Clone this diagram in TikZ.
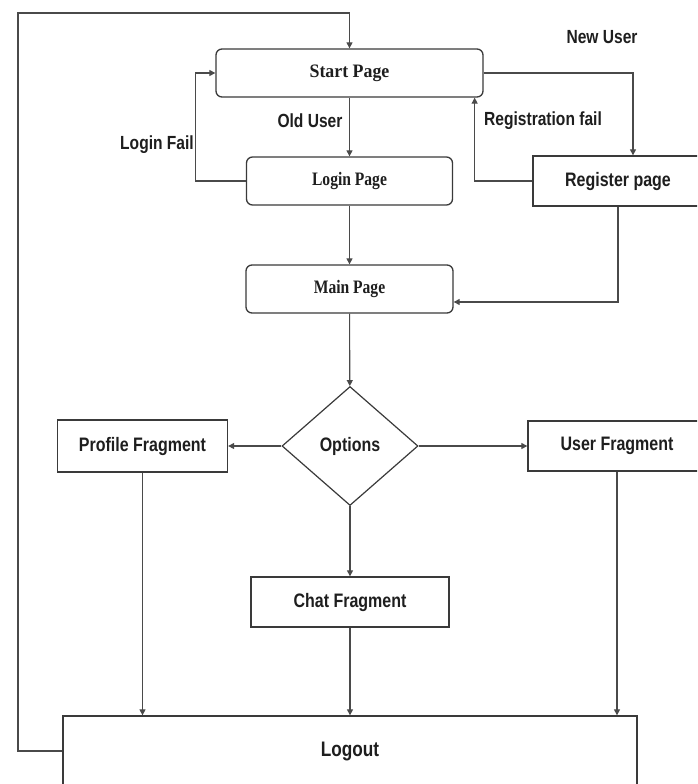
\documentclass[tikz,border=0pt]{standalone}
\usepackage{fontspec}
\setmainfont{Liberation Serif}
\newfontfamily\fragfont[FakeStretch=0.82]{Liberation Sans}
\newfontfamily\pagefont[FakeStretch=0.82]{Liberation Serif}
\newfontfamily\startfont[FakeStretch=0.94]{Liberation Serif}
\usetikzlibrary{positioning,arrows.meta,calc,shapes.geometric}
\definecolor{edge}{HTML}{3A3A3A}
\definecolor{wire}{HTML}{4A4A4A}
\definecolor{ink}{HTML}{1E1E1E}
\tikzset{
  page/.style   = {draw=edge, fill=white, line width=1.3pt, rounded corners=6pt,
                   minimum width=207pt, minimum height=48pt, inner sep=0pt,
                   font=\pagefont\bfseries\fontsize{19}{21}\selectfont, text=ink},
  frag/.style   = {draw=edge, fill=white, line width=1.3pt, minimum height=50pt,
                   inner sep=0pt, font=\fragfont\bfseries\fontsize{19.5}{21}\selectfont, text=ink},
  choice/.style = {diamond, draw=edge, fill=white, line width=1.2pt, aspect=1.14,
                   minimum width=136pt, minimum height=119pt, inner sep=0pt,
                   font=\fragfont\bfseries\fontsize{19.5}{21}\selectfont, text=ink},
  flow/.style   = {-{Triangle[length=6pt,width=6pt]}, draw=wire, line width=1.1pt},
  tag/.style    = {font=\fragfont\bfseries\fontsize{19}{21}\selectfont, text=ink, inner sep=0pt},
}

\begin{document}
\begin{tikzpicture}[x=1pt,y=-1pt]
\useasboundingbox (0,0) rectangle (697,784);
\clip (0,0) rectangle (697,784);

% ------------------------------------------------------------------ pages
\node[page, minimum width=267pt, font=\startfont\bfseries\fontsize{19}{21}\selectfont] (start) at (349.5,73) {Start Page};
\node[page, minimum width=206pt] (login) at (349.5,181) {Login Page};
\node[page] (main) at (349.5,289) {Main Page};
\node[frag, minimum width=170pt] (register) at (618,181) {Register page};

% ------------------------------------------------------------------ options
\node[choice] (options) at (350,446) {Options};
\node[frag, minimum width=170pt, minimum height=52pt] (profile) at (142.5,446) {Profile Fragment};
\node[frag, minimum width=178pt] (user) at (617,446) {User Fragment};
\node[frag, minimum width=198pt] (chat) at (350,602) {Chat Fragment};
\node[frag, minimum width=574pt, minimum height=70pt, font=\fragfont\bfseries\fontsize{21}{23}\selectfont] (logout) at (350,751) {Logout};

% ------------------------------------------------------------------ labels
\node[tag] (olduser) at (310,121) {Old User};
\node[tag] (loginfail) at (157,145) {Login Fail};
\node[tag] (newuser) at (602,37) {New User};
\node[tag] (regfail) at (543,121) {Registration fail};

% ------------------------------------------------------------------ flow
\coordinate (corner) at (18,13);
\draw[flow] (start) -- (login);
\draw[flow] (login) -- (main);
\draw[flow] (login.west) -- ++(-50,0) |- (start.west);
\draw[flow] (start.east) -| ($(register.north)+(15,0)$);
\draw[flow] (register.west) -| ($(start.south east)+(-9,0)$);
\draw[flow] (register.south) |- ($(main.east)+(0,13)$);
\draw[flow] (main) -- (options);
\draw[flow] (options.west) -- (profile.east);
\draw[flow] (options.east) -- (user.west);
\draw[flow] (options.south) -- (chat.north);
\foreach \f in {profile,chat,user}{\draw[flow] (\f.south) -- (\f.south |- logout.north);}
\draw[flow] (logout.west) -| (corner) -| (start.north);

\end{tikzpicture}
\end{document}
